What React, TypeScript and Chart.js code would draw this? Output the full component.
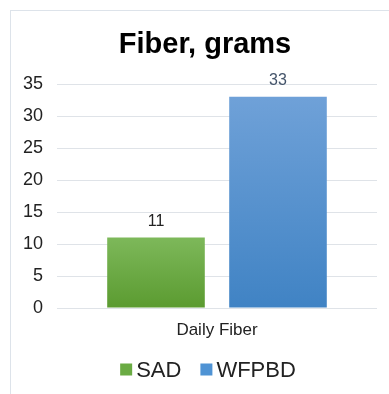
import React, { useEffect, useRef } from "react";
import { Chart, registerables } from "chart.js";

Chart.register(...registerables);

const titleText = "Fiber, grams";
const categories = ["Daily Fiber"];
const seriesNames = ["SAD", "WFPBD"];
const sadValues = [11];
const wfpbdValues = [33];
const yTicks = [0, 5, 10, 15, 20, 25, 30, 35];

const FONT = "'Liberation Sans', Arial, Helvetica, sans-serif";

const gradients: Record<string, [string, string]> = {
  SAD: ["#7db85a", "#5b9b30"],
  WFPBD: ["#6fa1d8", "#4083c4"],
};
const legendColors: Record<string, string> = { SAD: "#6aab43", WFPBD: "#4f93d4" };
const labelColors: Record<string, string> = { SAD: "#222222", WFPBD: "#44546a" };

function makeBg(name: string) {
  return (ctx: any) => {
    const chart = ctx.chart;
    const [c1, c2] = gradients[name];
    const y = chart.scales && chart.scales.y;
    if (!y || ctx.raw == null) return c2;
    const top = y.getPixelForValue(ctx.raw);
    const bottom = y.getPixelForValue(0);
    if (!isFinite(top) || !isFinite(bottom) || top === bottom) return c2;
    const g = chart.ctx.createLinearGradient(0, top, 0, bottom);
    g.addColorStop(0, c1);
    g.addColorStop(1, c2);
    return g;
  };
}

const valueLabels = {
  id: "valueLabels",
  afterDatasetsDraw(chart: any) {
    const ctx = chart.ctx;
    chart.data.datasets.forEach((ds: any, i: number) => {
      const meta = chart.getDatasetMeta(i);
      meta.data.forEach((el: any, j: number) => {
        ctx.save();
        ctx.font = `16px ${FONT}`;
        ctx.fillStyle = labelColors[ds.label] || "#222";
        ctx.textAlign = "center";
        ctx.textBaseline = "middle";
        ctx.fillText(String(ds.data[j]), el.x, el.y - 16);
        ctx.restore();
      });
    });
  },
};

const customTitle = {
  id: "customTitle",
  afterDraw(chart: any) {
    const ctx = chart.ctx;
    ctx.save();
    ctx.font = `bold 29px ${FONT}`;
    ctx.fillStyle = "#000";
    ctx.textAlign = "center";
    ctx.textBaseline = "alphabetic";
    ctx.fillText(titleText, chart.width / 2 - 3, 42);
    ctx.restore();
  },
};

const customLegend = {
  id: "customLegend",
  afterDraw(chart: any) {
    const ctx = chart.ctx;
    ctx.save();
    ctx.font = `22px ${FONT}`;
    const box = 12;
    const gap = 4;
    const itemGap = 19;
    const items = chart.data.datasets.map((ds: any) => ({
      label: ds.label,
      w: ctx.measureText(ds.label).width,
    }));
    const total =
      items.reduce((s: number, it: any) => s + box + gap + it.w, 0) +
      itemGap * (items.length - 1);
    let x = chart.width / 2 - total / 2;
    const cy = 358.5;
    items.forEach((it: any) => {
      ctx.fillStyle = legendColors[it.label];
      ctx.fillRect(x, cy - box / 2, box, box);
      x += box + gap;
      ctx.fillStyle = "#222";
      ctx.textAlign = "left";
      ctx.textBaseline = "middle";
      ctx.fillText(it.label, x, cy + 1);
      x += it.w + itemGap;
    });
    ctx.restore();
  },
};

export default function App() {
  const ref = useRef<HTMLCanvasElement>(null);
  useEffect(() => {
    if (!ref.current) return;
    const chart = new Chart(ref.current, {
      type: "bar",
      data: {
        labels: categories,
        datasets: [
          {
            label: seriesNames[0],
            data: sadValues,
            backgroundColor: makeBg("SAD"),
            borderWidth: 0,
          },
          {
            label: seriesNames[1],
            data: wfpbdValues,
            backgroundColor: makeBg("WFPBD"),
            borderWidth: 0,
          },
        ],
      },
      options: {
        responsive: false,
        animation: false,
        devicePixelRatio: 1,
        layout: { padding: { left: 0, right: 28, top: 73, bottom: 46 } },
        datasets: {
          bar: { categoryPercentage: 0.7625, barPercentage: 0.8 },
        } as any,
        scales: {
          x: {
            grid: { display: false, drawTicks: false },
            border: { display: false },
            ticks: { color: "#222", font: { family: FONT, size: 17 }, padding: 12 },
            afterFit: (s: any) => {
              s.height = 40;
            },
          },
          y: {
            min: 0,
            max: 35,
            afterBuildTicks: (s: any) => {
              s.ticks = yTicks.map((v) => ({ value: v }));
            },
            grid: { color: "#dfe3e8", lineWidth: 1, drawTicks: false },
            border: { display: false },
            ticks: { color: "#222", font: { family: FONT, size: 18 }, padding: 14 },
            afterFit: (s: any) => {
              s.width = 46;
            },
          },
        },
        plugins: {
          title: { display: false },
          legend: { display: false },
          tooltip: { enabled: false },
        },
      },
      plugins: [valueLabels, customTitle, customLegend],
    });
    return () => chart.destroy();
  }, []);
  return (
    <div
      style={{
        position: "absolute",
        left: 10,
        top: 10,
        width: 379,
        height: 384,
        borderLeft: "1px solid #dde3ea",
        borderTop: "1px solid #dde3ea",
        overflow: "hidden",
        boxSizing: "border-box",
      }}
    >
      <canvas ref={ref} width={394} height={383} style={{ display: "block" }} />
    </div>
  );
}
